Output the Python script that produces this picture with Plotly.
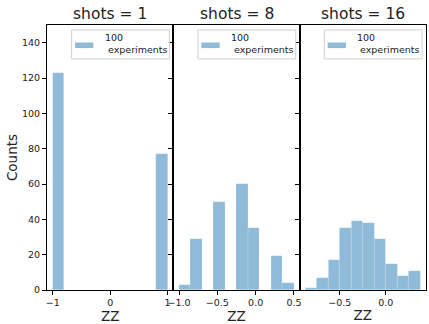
import plotly.graph_objects as go
from plotly.subplots import make_subplots

# ---- data (bin edges and counts) ----
titles = ["shots = 1", "shots = 8", "shots = 16"]
edges_1 = [-1.0, -0.8, -0.6, -0.4, -0.2, 0.0, 0.2, 0.4, 0.6, 0.8, 1.0]
counts_1 = [123, 0, 0, 0, 0, 0, 0, 0, 0, 77]
edges_8 = [-1.0, -0.85, -0.7, -0.55, -0.4, -0.25, -0.1, 0.05, 0.2, 0.35, 0.5]
counts_8 = [3, 29, 0, 50, 0, 60, 35, 0, 19, 4]
edges_16 = [-0.875, -0.75, -0.625, -0.5, -0.375, -0.25, -0.125, 0.0, 0.125, 0.25, 0.375]
counts_16 = [1, 7, 17, 35, 39, 38, 29, 15, 8, 11]

xtick_vals = [[-1, 0, 1], [-1.0, -0.5, 0.0, 0.5], [-0.5, 0.0]]
xtick_text = [["−1", "0", "1"], ["−1.0", "−0.5", "0.0", "0.5"], ["−0.5", "0.0"]]
ytick_vals = [0, 20, 40, 60, 80, 100, 120, 140]
legend_label = "100<br>\u00a0experiments"

hists = [(edges_1, counts_1), (edges_8, counts_8), (edges_16, counts_16)]

BAR_COLOR = "rgba(31,119,180,0.5)"

fig = make_subplots(rows=1, cols=3, shared_yaxes=True, horizontal_spacing=0,
                    subplot_titles=titles)

for i, (edges, counts) in enumerate(hists):
    centers = [(edges[k] + edges[k + 1]) / 2 for k in range(len(counts))]
    widths = [edges[k + 1] - edges[k] for k in range(len(counts))]
    fig.add_trace(go.Bar(
        x=centers, y=counts, width=widths, name=legend_label,
        marker=dict(color=BAR_COLOR,
                    line=dict(color="rgba(255,255,255,0.3)", width=0.6)),
        showlegend=False,
    ), row=1, col=i + 1)
    lo, hi = edges[0], edges[-1]
    pad = 0.05 * (hi - lo)
    fig.update_xaxes(range=[lo - pad, hi + pad], tickvals=xtick_vals[i],
                     ticktext=xtick_text[i], row=1, col=i + 1)

    # matplotlib-style legend box drawn in axes-domain coordinates
    sfx = "" if i == 0 else str(i + 1)
    xr, yr = f"x{sfx} domain", f"y{sfx} domain"
    fig.add_shape(type="rect", xref=xr, yref=yr, x0=0.195, x1=0.969,
                  y0=0.872, y1=0.981, fillcolor="rgba(255,255,255,0.8)",
                  line=dict(color="#d0d0d0", width=1), layer="above")
    fig.add_shape(type="rect", xref=xr, yref=yr, x0=0.222, x1=0.367,
                  y0=0.913, y1=0.934, fillcolor=BAR_COLOR,
                  line=dict(width=0), layer="above")
    fig.add_annotation(xref=xr, yref=yr, x=0.44, y=0.929, text=legend_label,
                       xanchor="left", yanchor="middle", align="left",
                       showarrow=False, font=dict(size=9.5, color="#222"))

fig.update_xaxes(showline=True, linecolor="black", linewidth=1, mirror=True,
                 ticks="outside", ticklen=4, tickcolor="black", showgrid=False,
                 zeroline=False, tickfont=dict(size=9.5, color="#222"),
                 title=dict(text="ZZ", font=dict(size=13.5, color="#222"), standoff=3))
fig.update_yaxes(showline=True, linecolor="black", linewidth=1, mirror=True,
                 ticks="outside", ticklen=4, tickcolor="black", showgrid=False,
                 zeroline=False, range=[0, 150], tickvals=ytick_vals,
                 tickfont=dict(size=9.5, color="#222"))
fig.update_yaxes(title=dict(text="Counts", font=dict(size=13.5, color="#222"), standoff=1),
                 row=1, col=1)

for ann in fig.layout.annotations:
    if ann.text in titles:
        ann.font = dict(size=15.5, color="#222")

fig.update_layout(
    width=429, height=324,
    margin=dict(l=47, r=1, t=25, b=34),
    plot_bgcolor="white", paper_bgcolor="white",
    font=dict(family="DejaVu Sans", color="#222"),
    bargap=0,
    showlegend=False,
)

fig.write_html("out.html")
